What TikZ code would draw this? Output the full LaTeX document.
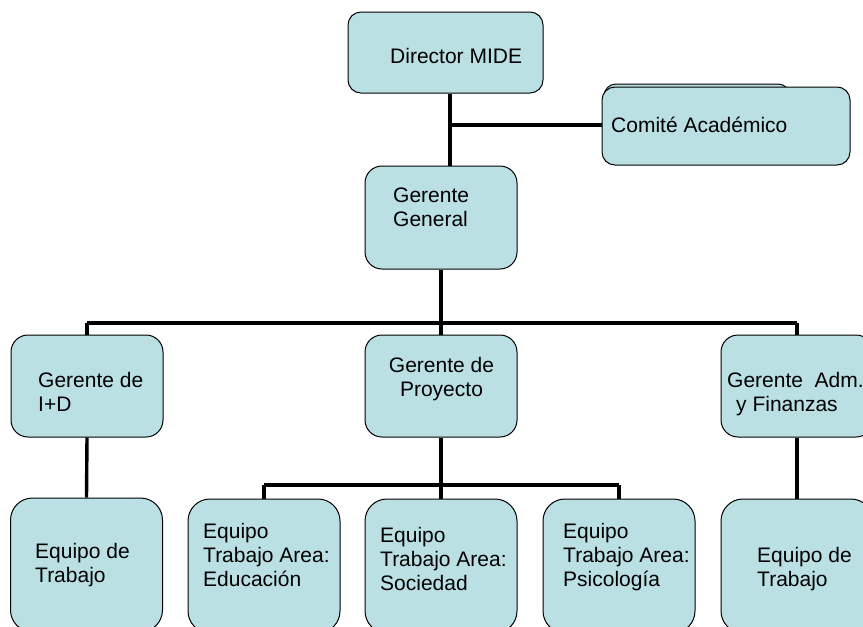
\documentclass[tikz,border=0pt]{standalone}
\usepackage{fontspec}
\setmainfont{Liberation Sans}
\definecolor{boxfill}{RGB}{186,224,228}
\begin{document}
\begin{tikzpicture}[x=1pt,y=-1pt,
  box/.style={draw=black, line width=1pt, fill=boxfill, rectangle, inner sep=0pt},
  mid/.style={box, minimum width=152pt, minimum height=102pt, rounded corners=17pt},
  team/.style={box, minimum width=152pt, minimum height=134pt, rounded corners=22pt},
  lbl/.style={font=\fontsize{21}{24}\selectfont, align=left, inner sep=0pt, anchor=north west},
  link/.style={draw=black, line width=3.4pt}]
\useasboundingbox (0,0) rectangle (863,627);

% junction points of the connector lines
\coordinate (jc) at (450,125);
\coordinate (busA) at (0,323);
\coordinate (busB) at (0,485);

% boxes
\node[box, minimum width=195pt, minimum height=81pt, rounded corners=13pt] (dir) at (445.5,52.5) {};
\node[box, minimum width=186pt, minimum height=56pt, rounded corners=12pt] (comback) at (697,112) {};
\node[box, minimum width=248pt, minimum height=78pt, rounded corners=13pt] (com) at (726,126) {};
\node[box, minimum width=152pt, minimum height=103pt, rounded corners=17pt] (gg) at (441,217.5) {};
\node[mid] (gid) at (87,386) {};
\node[mid] (gp) at (441,386) {};
\node[mid] (ga) at (797,386) {};
\node[team] (e1) at (86.5,565) {};
\node[team] (e2) at (264,566) {};
\node[team] (e3) at (441,566) {};
\node[team] (e4) at (619,566) {};
\node[team] (e5) at (797,566) {};

% connectors
\draw[link] (dir.south -| jc) -- (gg.north -| jc);
\draw[link] (jc) -- (com.west |- jc);
\draw[link] (gg.south) -- (gg.south |- busA);
\draw[link] (gid.north |- busA) -- (ga.north |- busA);
\draw[link] (gid.north |- busA) -- (gid.north);
\draw[link] (gp.north |- busA) -- (gp.north);
\draw[link] (ga.north |- busA) -- (ga.north);
\draw[link] (gid.south) -- (e1.north);
\draw[link] (ga.south) -- (e5.north);
\draw[link] (gp.south) -- (gp.south |- busB);
\draw[link] (e2.north |- busB) -- (e4.north |- busB);
\draw[link] (e2.north |- busB) -- (e2.north);
\draw[link] (e3.north |- busB) -- (e3.north);
\draw[link] (e4.north |- busB) -- (e4.north);

% labels
\node[lbl] (tdir) at (390,48) {Director MIDE};
\node[lbl] (tcom) at (611,117) {Comité Académico};
\node[lbl] (tgg) at (393,188) {Gerente\\General};
\node[lbl] (tgid) at (38,372) {Gerente de\\I+D};
\node[lbl, align=center, anchor=north] (tgp) at (441.5,357) {Gerente de\\Proyecto};
\node[lbl] (tga) at (727,372) {Gerente\ \ Adm.\\\hspace*{9pt}y Finanzas};
\node[lbl] (te1) at (35,543) {Equipo de\\Trabajo};
\node[lbl] (te2) at (203,523) {Equipo\\Trabajo Area:\\Educación};
\node[lbl] (te3) at (380,527) {Equipo\\Trabajo Area:\\Sociedad};
\node[lbl] (te4) at (563,523) {Equipo\\Trabajo Area:\\Psicología};
\node[lbl] (te5) at (757,547) {Equipo de\\Trabajo};
\end{tikzpicture}
\end{document}
